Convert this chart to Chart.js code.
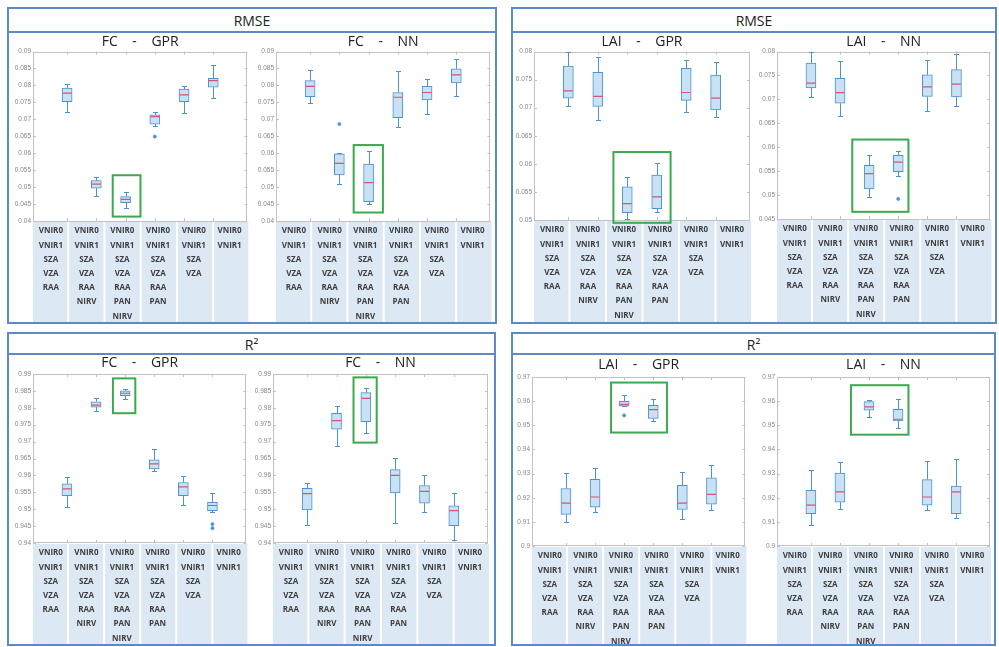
<!DOCTYPE html>
<html>
<head>
<meta charset="utf-8">
<script src="https://cdn.jsdelivr.net/npm/chart.js@4.4.1/dist/chart.umd.min.js"></script>
<style>
  html, body { margin: 0; padding: 0; background: #fff; }
  body { width: 999px; height: 647px; position: relative; overflow: hidden; font-family: "Open Sans", sans-serif; }
  .frame { position: absolute; border: 2px solid #5b8bc6; box-sizing: border-box; }
  .head { position: absolute; left: 0; right: 0; top: 0; border-bottom: 2px solid #5b8bc6; text-align: center; font-size: 14px; color: #222; }
  canvas { position: absolute; }
</style>
</head>
<body>
<div class="frame" style="left:7px;top:7px;width:490px;height:317px"><div class="head" style="height:22px;line-height:24px">RMSE</div></div>
<div class="frame" style="left:511px;top:7px;width:486px;height:317px"><div class="head" style="height:22px;line-height:24px">RMSE</div></div>
<div class="frame" style="left:7px;top:332px;width:489px;height:314px"><div class="head" style="height:19px;line-height:22px">R²</div></div>
<div class="frame" style="left:511px;top:332px;width:485px;height:314px"><div class="head" style="height:19px;line-height:22px">R²</div></div>

<script>
// Predictor sets used by each model run (one column per set)
const categories = [
  ['VNIR0', 'VNIR1', 'SZA', 'VZA', 'RAA'],
  ['VNIR0', 'VNIR1', 'SZA', 'VZA', 'RAA', 'NIRV'],
  ['VNIR0', 'VNIR1', 'SZA', 'VZA', 'RAA', 'PAN', 'NIRV'],
  ['VNIR0', 'VNIR1', 'SZA', 'VZA', 'RAA', 'PAN'],
  ['VNIR0', 'VNIR1', 'SZA', 'VZA'],
  ['VNIR0', 'VNIR1']
];

// Box summaries per predictor set: [lower whisker, Q1, median, Q3, upper whisker]
const rmseFcGpr = [
  [0.0723, 0.0752, 0.0777, 0.0792, 0.0804],
  [0.0474, 0.0497, 0.0509, 0.0519, 0.0531],
  [0.0439, 0.0454, 0.0464, 0.0472, 0.0485],
  [0.0679, 0.0686, 0.0708, 0.0713, 0.0723],
  [0.0720, 0.0752, 0.0772, 0.0789, 0.0799],
  [0.0762, 0.0795, 0.0814, 0.0821, 0.0859]
];
const rmseFcNn = [
  [0.0748, 0.0767, 0.0797, 0.0814, 0.0844],
  [0.0508, 0.0536, 0.0570, 0.0598, 0.0600],
  [0.0449, 0.0457, 0.0513, 0.0568, 0.0607],
  [0.0677, 0.0705, 0.0765, 0.0779, 0.0843],
  [0.0715, 0.0757, 0.0779, 0.0797, 0.0818],
  [0.0770, 0.0807, 0.0831, 0.0849, 0.0878]
];
const rmseLaiGpr = [
  [0.0703, 0.0717, 0.0730, 0.0774, 0.0800],
  [0.0678, 0.0702, 0.0720, 0.0763, 0.0791],
  [0.0501, 0.0513, 0.0529, 0.0559, 0.0577],
  [0.0514, 0.0520, 0.0541, 0.0580, 0.0602],
  [0.0692, 0.0713, 0.0727, 0.0770, 0.0785],
  [0.0683, 0.0696, 0.0717, 0.0758, 0.0782]
];
const rmseLaiNn = [
  [0.0705, 0.0724, 0.0734, 0.0776, 0.0800],
  [0.0666, 0.0692, 0.0714, 0.0744, 0.0781],
  [0.0496, 0.0513, 0.0545, 0.0562, 0.0584],
  [0.0540, 0.0549, 0.0569, 0.0583, 0.0593],
  [0.0676, 0.0706, 0.0726, 0.0751, 0.0783],
  [0.0687, 0.0705, 0.0732, 0.0762, 0.0795]
];
const r2FcGpr = [
  [0.9506, 0.9540, 0.9560, 0.9575, 0.9594],
  [0.9792, 0.9802, 0.9808, 0.9818, 0.9828],
  [0.9826, 0.9836, 0.9843, 0.9850, 0.9855],
  [0.9612, 0.9619, 0.9634, 0.9646, 0.9678],
  [0.9513, 0.9540, 0.9566, 0.9579, 0.9597],
  [0.9493, 0.9496, 0.9511, 0.9520, 0.9548]
];
const r2FcNn = [
  [0.9452, 0.9498, 0.9546, 0.9562, 0.9577],
  [0.9687, 0.9737, 0.9762, 0.9784, 0.9806],
  [0.9725, 0.9759, 0.9828, 0.9845, 0.9858],
  [0.9459, 0.9548, 0.9600, 0.9617, 0.9651],
  [0.9493, 0.9518, 0.9553, 0.9570, 0.9600],
  [0.9408, 0.9451, 0.9496, 0.9510, 0.9548]
];
const r2LaiGpr = [
  [0.9099, 0.9131, 0.9178, 0.9238, 0.9304],
  [0.9141, 0.9161, 0.9203, 0.9276, 0.9323],
  [0.9578, 0.9579, 0.9587, 0.9599, 0.9624],
  [0.9518, 0.9528, 0.9565, 0.9583, 0.9609],
  [0.9113, 0.9151, 0.9178, 0.9251, 0.9306],
  [0.9148, 0.9173, 0.9214, 0.9282, 0.9337]
];
const r2LaiNn = [
  [0.9086, 0.9134, 0.9169, 0.9231, 0.9315],
  [0.9155, 0.9182, 0.9224, 0.9302, 0.9348],
  [0.9536, 0.9563, 0.9576, 0.9598, 0.9605],
  [0.9490, 0.9518, 0.9525, 0.9566, 0.9608],
  [0.9151, 0.9169, 0.9203, 0.9275, 0.9352],
  [0.9118, 0.9134, 0.9224, 0.9248, 0.9362]
];

// Outliers: [predictor set (1-based), value]
const rmseFcGprOut = [[4, 0.0649]];
const rmseFcNnOut = [[2, 0.0686]];
const rmseLaiGprOut = [];
const rmseLaiNnOut = [[4, 0.0492]];
const r2FcGprOut = [[6, 0.9456], [6, 0.9444]];
const r2FcNnOut = [];
const r2LaiGprOut = [[3, 0.9541]];
const r2LaiNnOut = [];

// Y-axis ranges: [min, max, step]
const rmseFcRange = [0.04, 0.09, 0.005];
const rmseLaiGprRange = [0.05, 0.08, 0.005];
const rmseLaiNnRange = [0.045, 0.08, 0.005];
const r2FcRange = [0.94, 0.99, 0.005];
const r2LaiRange = [0.9, 0.97, 0.01];

// Best predictor sets, outlined in green: [set from, set to, value from, value to]
const rmseFcGprBest = [2.56, 3.51, 0.0413, 0.0535];
const rmseFcNnBest = [2.49, 3.49, 0.0425, 0.0624];
const rmseLaiGprBest = [2.53, 4.47, 0.0495, 0.0621];
const rmseLaiNnBest = [2.42, 4.35, 0.0465, 0.0616];
const r2FcGprBest = [2.58, 3.35, 0.9784, 0.9887];
const r2FcNnBest = [2.58, 3.37, 0.9697, 0.9890];
const r2LaiGprBest = [2.55, 4.47, 0.9470, 0.9677];
const r2LaiNnBest = [2.38, 4.36, 0.9461, 0.9666];

// Page placement of each sub-plot (plot area edges, canvas extent, title line)
const panels = [
  { title: 'FC    -    GPR',  stats: rmseFcGpr,  out: rmseFcGprOut,  range: rmseFcRange,     best: rmseFcGprBest,  l: 33,  r: 248, t: 51.5, b: 221, top: 34,  bottom: 322, titleY: 42 },
  { title: 'FC    -    NN',   stats: rmseFcNn,   out: rmseFcNnOut,   range: rmseFcRange,     best: rmseFcNnBest,   l: 276, r: 491, t: 51.5, b: 221, top: 34,  bottom: 322, titleY: 42 },
  { title: 'LAI    -    GPR', stats: rmseLaiGpr, out: rmseLaiGprOut, range: rmseLaiGprRange, best: rmseLaiGprBest, l: 534, r: 750, t: 51.5, b: 220, top: 34,  bottom: 322, titleY: 42 },
  { title: 'LAI    -    NN',  stats: rmseLaiNn,  out: rmseLaiNnOut,  range: rmseLaiNnRange,  best: rmseLaiNnBest,  l: 777, r: 991, t: 51.5, b: 219, top: 34,  bottom: 322, titleY: 42 },
  { title: 'FC    -    GPR',  stats: r2FcGpr,    out: r2FcGprOut,    range: r2FcRange,       best: r2FcGprBest,    l: 33,  r: 247, t: 374,  b: 543, top: 355, bottom: 644, titleY: 363 },
  { title: 'FC    -    NN',   stats: r2FcNn,     out: r2FcNnOut,     range: r2FcRange,       best: r2FcNnBest,     l: 273, r: 488, t: 374,  b: 543, top: 355, bottom: 644, titleY: 363 },
  { title: 'LAI    -    GPR', stats: r2LaiGpr,   out: r2LaiGprOut,   range: r2LaiRange,      best: r2LaiGprBest,   l: 532, r: 746, t: 377,  b: 546, top: 355, bottom: 644, titleY: 365 },
  { title: 'LAI    -    NN',  stats: r2LaiNn,    out: r2LaiNnOut,    range: r2LaiRange,      best: r2LaiNnBest,    l: 777, r: 990, t: 377,  b: 546, top: 355, bottom: 644, titleY: 365 }
];

const BOX_FILL = '#c9e1f4';
const BOX_EDGE = '#4a92d2';
const MEDIAN = '#e0506b';
const AXIS_GREY = '#c2c2c2';
const BEST_GREEN = '#3ba94e';

function makeChart(p) {
  const yw = 26, rp = 4;
  const W = Math.round(p.r - p.l + yw + rp);
  const H = Math.round(p.bottom - p.top);
  const xh = p.bottom - p.b;
  const padTop = p.titleY - 7 - p.top;
  const padBottom = p.t - p.top - padTop - 14;

  const cv = document.createElement('canvas');
  cv.width = W; cv.height = H;
  cv.style.left = (p.l - yw) + 'px';
  cv.style.top = p.top + 'px';
  cv.style.width = W + 'px';
  cv.style.height = H + 'px';
  document.body.appendChild(cv);

  // Whiskers, medians, axes box, inward ticks, table cells and the green outline
  const boxParts = {
    id: 'boxParts',
    beforeDraw(chart) {
      const { ctx, chartArea: a } = chart;
      const n = categories.length;
      const x0 = a.left - 1, x1 = a.right + 2, w = (x1 - x0) / n;
      ctx.save();
      ctx.fillStyle = '#dce8f4';
      for (let i = 0; i < n; i++) {
        ctx.fillRect(x0 + i * w + 1, a.bottom + 1, w - 2, chart.height - a.bottom - 1);
      }
      ctx.restore();
    },
    afterDatasetsDraw(chart) {
      const { ctx, chartArea: a } = chart;
      const xs = chart.scales.xb, ys = chart.scales.y;
      ctx.save();
      // axes box
      ctx.strokeStyle = AXIS_GREY;
      ctx.lineWidth = 1;
      ctx.strokeRect(Math.round(a.left) + 0.5, Math.round(a.top) + 0.5, Math.round(a.width) - 1, Math.round(a.height) - 1);
      ctx.beginPath();
      ys.ticks.forEach(t => {
        const py = Math.round(ys.getPixelForValue(t.value)) + 0.5;
        ctx.moveTo(a.left, py); ctx.lineTo(a.left + 3, py);
        ctx.moveTo(a.right - 3, py); ctx.lineTo(a.right, py);
      });
      p.stats.forEach((s, i) => {
        const px = Math.round(xs.getPixelForValue(i + 1)) + 0.5;
        ctx.moveTo(px, a.top); ctx.lineTo(px, a.top + 3);
        ctx.moveTo(px, a.bottom - 3); ctx.lineTo(px, a.bottom);
      });
      ctx.stroke();

      // whiskers and caps
      ctx.strokeStyle = BOX_EDGE;
      ctx.lineWidth = 1;
      ctx.beginPath();
      p.stats.forEach((s, i) => {
        const px = Math.round(xs.getPixelForValue(i + 1)) + 0.5;
        const lo = Math.round(ys.getPixelForValue(s[0])) + 0.5;
        const q1 = ys.getPixelForValue(s[1]);
        const q3 = ys.getPixelForValue(s[3]);
        const hi = Math.round(ys.getPixelForValue(s[4])) + 0.5;
        ctx.moveTo(px, q3); ctx.lineTo(px, hi);
        ctx.moveTo(px - 2.5, hi); ctx.lineTo(px + 2.5, hi);
        ctx.moveTo(px, q1); ctx.lineTo(px, lo);
        ctx.moveTo(px - 2.5, lo); ctx.lineTo(px + 2.5, lo);
      });
      ctx.stroke();

      // medians
      ctx.strokeStyle = MEDIAN;
      ctx.lineWidth = 1.2;
      ctx.beginPath();
      p.stats.forEach((s, i) => {
        const px = xs.getPixelForValue(i + 1);
        const md = ys.getPixelForValue(s[2]);
        ctx.moveTo(px - 4.5, md); ctx.lineTo(px + 4.5, md);
      });
      ctx.stroke();

      // best predictor sets
      const [bx0, bx1, by0, by1] = p.best;
      const gx0 = xs.getPixelForValue(bx0), gx1 = xs.getPixelForValue(bx1);
      const gy0 = ys.getPixelForValue(by0), gy1 = ys.getPixelForValue(by1);
      ctx.strokeStyle = BEST_GREEN;
      ctx.lineWidth = 2;
      ctx.strokeRect(gx0, gy1, gx1 - gx0, gy0 - gy1);
      ctx.restore();
    }
  };

  new Chart(cv, {
    type: 'bar',
    data: {
      labels: categories,
      datasets: [
        {
          type: 'bar',
          data: p.stats.map((s, i) => ({ x: i + 1, y: [s[1], s[3]] })),
          xAxisID: 'xb',
          yAxisID: 'y',
          backgroundColor: BOX_FILL,
          borderColor: BOX_EDGE,
          borderWidth: 1,
          borderSkipped: false,
          barThickness: 10
        },
        {
          type: 'scatter',
          data: p.out.map(o => ({ x: o[0], y: o[1] })),
          xAxisID: 'xb',
          yAxisID: 'y',
          showLine: false,
          pointRadius: 1.6,
          pointBackgroundColor: BOX_EDGE,
          pointBorderColor: BOX_EDGE,
          pointBorderWidth: 0.6
        }
      ]
    },
    options: {
      responsive: false,
      animation: false,
      devicePixelRatio: 1,
      layout: { padding: { left: 0, right: rp, top: 0, bottom: 0 } },
      plugins: {
        legend: { display: false },
        tooltip: { enabled: false },
        title: {
          display: true,
          text: p.title,
          fullSize: false,
          color: '#222',
          font: { family: 'Open Sans', size: 14, weight: 'normal', lineHeight: '14px' },
          padding: { top: padTop, bottom: padBottom }
        }
      },
      scales: {
        x: {
          type: 'category',
          position: 'bottom',
          offset: true,
          grid: { display: false, drawTicks: false },
          border: { display: false },
          ticks: {
            autoSkip: false,
            maxRotation: 0,
            padding: 3,
            color: '#404040',
            font: { family: 'Open Sans', size: 8, weight: 'bold', lineHeight: '14.2px' }
          },
          afterFit: s => { s.height = xh; }
        },
        xb: { type: 'linear', display: false, min: 0.75, max: 6.25 },
        y: {
          type: 'linear',
          min: p.range[0],
          max: p.range[1],
          grid: { display: false, drawTicks: false },
          border: { display: false },
          ticks: {
            stepSize: p.range[2],
            padding: 2,
            color: '#868686',
            font: { family: 'Liberation Sans', size: 6.5 },
            callback: v => String(+v.toFixed(3))
          },
          afterFit: s => { s.width = yw; }
        }
      }
    },
    plugins: [boxParts]
  });
}

panels.forEach(makeChart);
</script>
</body>
</html>
